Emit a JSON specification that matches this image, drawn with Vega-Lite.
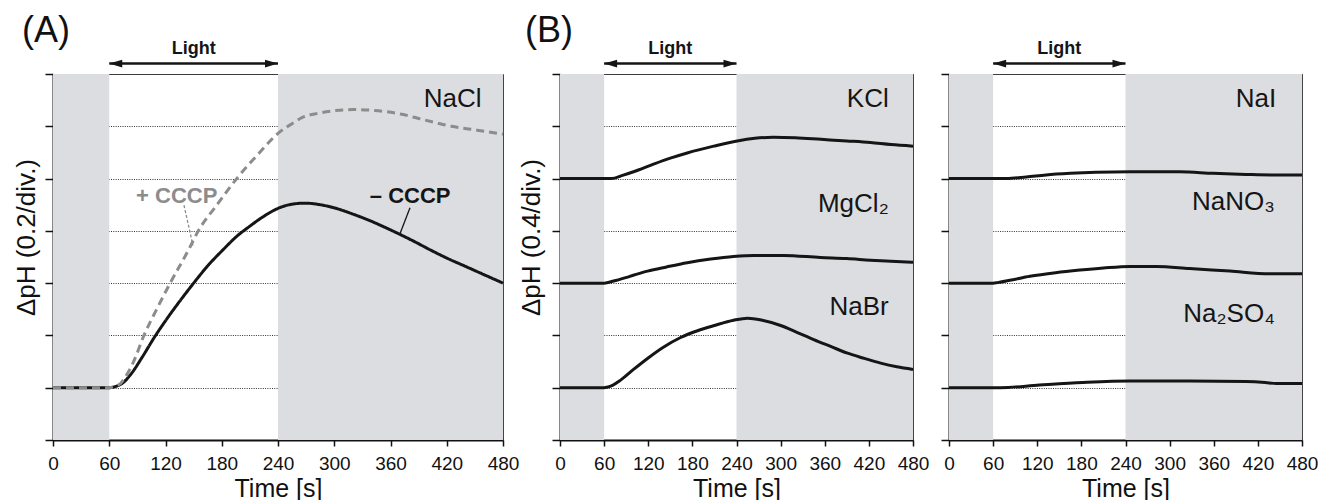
{
  "$schema": "https://vega.github.io/schema/vega-lite/v6.json",
  "padding": {"left": 12, "top": 12, "right": 0, "bottom": 0},
  "background": "white",
  "config": {
    "font": "Liberation Sans",
    "view": {"stroke": "#444", "strokeWidth": 1},
    "axisX": {"domainColor": "#111", "domainWidth": 2, "tickColor": "#111", "tickWidth": 1.5, "tickSize": 6, "labelFontSize": 19, "labelColor": "#111", "labelPadding": 8, "labelOverlap": false, "labelFlush": false, "titleFontSize": 25, "titleFontWeight": "normal", "titleColor": "#111", "titlePadding": 3, "grid": false},
    "axisY": {"domainColor": "#111", "domainWidth": 2, "tickColor": "#111", "tickWidth": 1.5, "tickSize": 8, "labels": false, "grid": true, "gridColor": "#333", "gridDash": [1, 1.3], "gridWidth": 1, "zindex": 1, "titleFontSize": 26, "titleFontWeight": "normal", "titleColor": "#111", "titleBaseline": "bottom", "titleAngle": 270, "titleAlign": "center", "titleY": 163},
    "title": {"fontSize": 36, "fontWeight": "normal", "color": "#111", "anchor": "start", "frame": "group"}
  },
  "datasets": {
    "shade": [{"t": 0, "t2": 60, "v": 0, "v2": 7}, {"t": 240, "t2": 480, "v": 0, "v2": 7}],
    "light": [{"t": 60, "t2": 240, "mid": 150, "v": 7.2, "vt": 7.38, "label": "Light"}],
    "curvesA": [
      {"s": "-CCCP", "t": 0, "v": 1}, {"s": "-CCCP", "t": 30, "v": 1}, {"s": "-CCCP", "t": 60, "v": 1}, {"s": "-CCCP", "t": 66, "v": 1.02}, {"s": "-CCCP", "t": 75, "v": 1.1}, {"s": "-CCCP", "t": 84, "v": 1.28}, {"s": "-CCCP", "t": 95, "v": 1.58}, {"s": "-CCCP", "t": 108, "v": 1.96}, {"s": "-CCCP", "t": 120, "v": 2.28}, {"s": "-CCCP", "t": 135, "v": 2.65}, {"s": "-CCCP", "t": 150, "v": 3.0}, {"s": "-CCCP", "t": 165, "v": 3.33}, {"s": "-CCCP", "t": 182, "v": 3.65}, {"s": "-CCCP", "t": 195, "v": 3.88}, {"s": "-CCCP", "t": 210, "v": 4.09}, {"s": "-CCCP", "t": 225, "v": 4.28}, {"s": "-CCCP", "t": 240, "v": 4.43}, {"s": "-CCCP", "t": 255, "v": 4.51}, {"s": "-CCCP", "t": 269, "v": 4.53}, {"s": "-CCCP", "t": 285, "v": 4.5}, {"s": "-CCCP", "t": 300, "v": 4.44}, {"s": "-CCCP", "t": 320, "v": 4.32}, {"s": "-CCCP", "t": 340, "v": 4.18}, {"s": "-CCCP", "t": 355, "v": 4.06}, {"s": "-CCCP", "t": 368, "v": 3.95}, {"s": "-CCCP", "t": 385, "v": 3.8}, {"s": "-CCCP", "t": 402, "v": 3.64}, {"s": "-CCCP", "t": 420, "v": 3.48}, {"s": "-CCCP", "t": 440, "v": 3.32}, {"s": "-CCCP", "t": 460, "v": 3.16}, {"s": "-CCCP", "t": 480, "v": 3.0},
      {"s": "+CCCP", "t": 0, "v": 1}, {"s": "+CCCP", "t": 30, "v": 1}, {"s": "+CCCP", "t": 60, "v": 1}, {"s": "+CCCP", "t": 65, "v": 1.02}, {"s": "+CCCP", "t": 72, "v": 1.08}, {"s": "+CCCP", "t": 77, "v": 1.2}, {"s": "+CCCP", "t": 86, "v": 1.5}, {"s": "+CCCP", "t": 97, "v": 2.0}, {"s": "+CCCP", "t": 110, "v": 2.48}, {"s": "+CCCP", "t": 125, "v": 3.0}, {"s": "+CCCP", "t": 145, "v": 3.65}, {"s": "+CCCP", "t": 155, "v": 4.0}, {"s": "+CCCP", "t": 175, "v": 4.5}, {"s": "+CCCP", "t": 196, "v": 5.0}, {"s": "+CCCP", "t": 219, "v": 5.47}, {"s": "+CCCP", "t": 241, "v": 5.88}, {"s": "+CCCP", "t": 255, "v": 6.05}, {"s": "+CCCP", "t": 266, "v": 6.17}, {"s": "+CCCP", "t": 283, "v": 6.25}, {"s": "+CCCP", "t": 301, "v": 6.3}, {"s": "+CCCP", "t": 320, "v": 6.32}, {"s": "+CCCP", "t": 337, "v": 6.31}, {"s": "+CCCP", "t": 355, "v": 6.28}, {"s": "+CCCP", "t": 372, "v": 6.23}, {"s": "+CCCP", "t": 390, "v": 6.15}, {"s": "+CCCP", "t": 408, "v": 6.07}, {"s": "+CCCP", "t": 425, "v": 6.0}, {"s": "+CCCP", "t": 443, "v": 5.95}, {"s": "+CCCP", "t": 462, "v": 5.9}, {"s": "+CCCP", "t": 480, "v": 5.85}
    ],
    "labelsA": [{"s": "+CCCP", "label": "+ CCCP", "t": 132, "v": 4.53}, {"s": "-CCCP", "label": "– CCCP", "t": 381, "v": 4.53}],
    "saltA": [{"label": "NaCl", "t": 457, "v": 6.37}],
    "leadersA": [{"s": "+CCCP", "t": 139.7, "v": 4.49, "t2": 149.3, "v2": 3.72}, {"s": "-CCCP", "t": 380.8, "v": 4.44, "t2": 370, "v2": 3.94}],
    "curvesB1": [
      {"s": "KCl", "t": 0, "v": 5}, {"s": "KCl", "t": 60, "v": 5}, {"s": "KCl", "t": 70, "v": 5.0}, {"s": "KCl", "t": 85, "v": 5.06}, {"s": "KCl", "t": 100, "v": 5.13}, {"s": "KCl", "t": 128, "v": 5.28}, {"s": "KCl", "t": 150, "v": 5.39}, {"s": "KCl", "t": 173, "v": 5.49}, {"s": "KCl", "t": 209, "v": 5.62}, {"s": "KCl", "t": 241, "v": 5.72}, {"s": "KCl", "t": 265, "v": 5.77}, {"s": "KCl", "t": 290, "v": 5.79}, {"s": "KCl", "t": 320, "v": 5.78}, {"s": "KCl", "t": 355, "v": 5.75}, {"s": "KCl", "t": 390, "v": 5.72}, {"s": "KCl", "t": 422, "v": 5.69}, {"s": "KCl", "t": 450, "v": 5.65}, {"s": "KCl", "t": 480, "v": 5.62},
      {"s": "MgCl2", "t": 0, "v": 3}, {"s": "MgCl2", "t": 60, "v": 3}, {"s": "MgCl2", "t": 73, "v": 3.04}, {"s": "MgCl2", "t": 95, "v": 3.13}, {"s": "MgCl2", "t": 119, "v": 3.23}, {"s": "MgCl2", "t": 145, "v": 3.31}, {"s": "MgCl2", "t": 173, "v": 3.39}, {"s": "MgCl2", "t": 205, "v": 3.46}, {"s": "MgCl2", "t": 236, "v": 3.51}, {"s": "MgCl2", "t": 264, "v": 3.53}, {"s": "MgCl2", "t": 304, "v": 3.53}, {"s": "MgCl2", "t": 354, "v": 3.49}, {"s": "MgCl2", "t": 390, "v": 3.47}, {"s": "MgCl2", "t": 422, "v": 3.44}, {"s": "MgCl2", "t": 450, "v": 3.42}, {"s": "MgCl2", "t": 480, "v": 3.4},
      {"s": "NaBr", "t": 0, "v": 1}, {"s": "NaBr", "t": 60, "v": 1}, {"s": "NaBr", "t": 64, "v": 1.01}, {"s": "NaBr", "t": 72, "v": 1.05}, {"s": "NaBr", "t": 82, "v": 1.14}, {"s": "NaBr", "t": 100, "v": 1.35}, {"s": "NaBr", "t": 119, "v": 1.56}, {"s": "NaBr", "t": 140, "v": 1.77}, {"s": "NaBr", "t": 164, "v": 1.96}, {"s": "NaBr", "t": 187, "v": 2.09}, {"s": "NaBr", "t": 210, "v": 2.19}, {"s": "NaBr", "t": 236, "v": 2.29}, {"s": "NaBr", "t": 255, "v": 2.33}, {"s": "NaBr", "t": 275, "v": 2.29}, {"s": "NaBr", "t": 300, "v": 2.19}, {"s": "NaBr", "t": 322, "v": 2.06}, {"s": "NaBr", "t": 345, "v": 1.92}, {"s": "NaBr", "t": 368, "v": 1.79}, {"s": "NaBr", "t": 391, "v": 1.66}, {"s": "NaBr", "t": 414, "v": 1.56}, {"s": "NaBr", "t": 436, "v": 1.47}, {"s": "NaBr", "t": 458, "v": 1.4}, {"s": "NaBr", "t": 480, "v": 1.35}
    ],
    "saltB1": [{"label": "KCl", "t": 447, "v": 6.37}, {"label": "MgCl₂", "t": 447, "v": 4.37}, {"label": "NaBr", "t": 447, "v": 2.39}],
    "curvesB2": [
      {"s": "NaI", "t": 0, "v": 5}, {"s": "NaI", "t": 60, "v": 5}, {"s": "NaI", "t": 78, "v": 5.0}, {"s": "NaI", "t": 105, "v": 5.03}, {"s": "NaI", "t": 132, "v": 5.07}, {"s": "NaI", "t": 165, "v": 5.1}, {"s": "NaI", "t": 200, "v": 5.12}, {"s": "NaI", "t": 246, "v": 5.13}, {"s": "NaI", "t": 280, "v": 5.13}, {"s": "NaI", "t": 314, "v": 5.13}, {"s": "NaI", "t": 359, "v": 5.1}, {"s": "NaI", "t": 404, "v": 5.08}, {"s": "NaI", "t": 440, "v": 5.07}, {"s": "NaI", "t": 480, "v": 5.07},
      {"s": "NaNO3", "t": 0, "v": 3}, {"s": "NaNO3", "t": 60, "v": 3}, {"s": "NaNO3", "t": 66, "v": 3.01}, {"s": "NaNO3", "t": 85, "v": 3.06}, {"s": "NaNO3", "t": 110, "v": 3.13}, {"s": "NaNO3", "t": 145, "v": 3.2}, {"s": "NaNO3", "t": 178, "v": 3.25}, {"s": "NaNO3", "t": 210, "v": 3.29}, {"s": "NaNO3", "t": 246, "v": 3.32}, {"s": "NaNO3", "t": 282, "v": 3.32}, {"s": "NaNO3", "t": 327, "v": 3.28}, {"s": "NaNO3", "t": 382, "v": 3.23}, {"s": "NaNO3", "t": 436, "v": 3.18}, {"s": "NaNO3", "t": 480, "v": 3.18},
      {"s": "Na2SO4", "t": 0, "v": 1}, {"s": "Na2SO4", "t": 60, "v": 1}, {"s": "Na2SO4", "t": 70, "v": 1.0}, {"s": "Na2SO4", "t": 123, "v": 1.05}, {"s": "Na2SO4", "t": 182, "v": 1.1}, {"s": "Na2SO4", "t": 246, "v": 1.13}, {"s": "Na2SO4", "t": 327, "v": 1.13}, {"s": "Na2SO4", "t": 404, "v": 1.12}, {"s": "Na2SO4", "t": 430, "v": 1.1}, {"s": "Na2SO4", "t": 445, "v": 1.08}, {"s": "Na2SO4", "t": 480, "v": 1.08}
    ],
    "saltB2": [{"label": "NaI", "t": 445, "v": 6.37}, {"label": "NaNO₃", "t": 443, "v": 4.4}, {"label": "Na₂SO₄", "t": 443, "v": 2.26}]
  },
  "hconcat": [
    {
      "width": 450, "height": 366,
      "title": {"text": "(A)", "dx": -31, "dy": 14},
      "encoding": {
        "x": {"field": "t", "type": "quantitative", "scale": {"domain": [0, 480], "nice": false}, "title": "Time [s]", "axis": {"values": [0, 60, 120, 180, 240, 300, 360, 420, 480]}},
        "y": {"field": "v", "type": "quantitative", "scale": {"domain": [0, 7], "nice": false, "zero": false}, "title": "ΔpH (0.2/div.)", "axis": {"titleX": -14, "values": [0, 1, 2, 3, 4, 5, 6, 7]}}
      },
      "layer": [
        {"data": {"name": "shade"}, "mark": {"type": "rect", "color": "#dcdde0"}, "encoding": {"x2": {"field": "t2"}, "y2": {"field": "v2"}}},
        {"data": {"name": "curvesA"}, "mark": {"type": "line", "strokeWidth": 3, "interpolate": "monotone"},
         "encoding": {"color": {"field": "s", "type": "nominal", "scale": {"domain": ["-CCCP", "+CCCP"], "range": ["#151515", "#8c8c8c"]}, "legend": null},
                      "strokeDash": {"field": "s", "type": "nominal", "scale": {"domain": ["-CCCP", "+CCCP"], "range": [[1, 0], [8, 5]]}, "legend": null}}},
        {"data": {"name": "leadersA"}, "transform": [{"filter": "datum.s == '+CCCP'"}], "mark": {"type": "rule", "strokeWidth": 1.3, "color": "#8c8c8c", "strokeDash": [3, 2]}, "encoding": {"x2": {"field": "t2"}, "y2": {"field": "v2"}}},
        {"data": {"name": "leadersA"}, "transform": [{"filter": "datum.s == '-CCCP'"}], "mark": {"type": "rule", "strokeWidth": 1.3, "color": "#151515"}, "encoding": {"x2": {"field": "t2"}, "y2": {"field": "v2"}}},
        {"data": {"name": "labelsA"}, "mark": {"type": "text", "fontSize": 22, "fontWeight": "bold", "align": "center", "baseline": "alphabetic"},
         "encoding": {"text": {"field": "label"}, "color": {"field": "s", "type": "nominal", "legend": null}}},
        {"data": {"name": "saltA"}, "mark": {"type": "text", "fontSize": 26, "align": "right", "baseline": "alphabetic", "color": "#151515"}, "encoding": {"text": {"field": "label"}}},
        {"data": {"name": "light"}, "mark": {"type": "rule", "strokeWidth": 2.5, "color": "#151515"}, "encoding": {"x2": {"field": "t2"}}},
        {"data": {"name": "light"}, "mark": {"type": "point", "filled": true, "opacity": 1, "color": "#151515", "size": 169, "shape": "M0,0L2,-0.6L2,0.6Z"}},
        {"data": {"name": "light"}, "mark": {"type": "point", "filled": true, "opacity": 1, "color": "#151515", "size": 169, "shape": "M0,0L-2,-0.6L-2,0.6Z"}, "encoding": {"x": {"field": "t2", "type": "quantitative"}}},
        {"data": {"name": "light"}, "mark": {"type": "text", "fontSize": 18, "fontWeight": "bold", "align": "center", "baseline": "alphabetic", "color": "#151515"}, "encoding": {"x": {"field": "mid", "type": "quantitative"}, "y": {"field": "vt", "type": "quantitative"}, "text": {"field": "label"}}}
      ]
    },
    {
      "width": 353, "height": 366,
      "title": {"text": "(B)", "dx": -35, "dy": 14},
      "encoding": {
        "x": {"field": "t", "type": "quantitative", "scale": {"domain": [0, 480], "nice": false}, "title": "Time [s]", "axis": {"values": [0, 60, 120, 180, 240, 300, 360, 420, 480]}},
        "y": {"field": "v", "type": "quantitative", "scale": {"domain": [0, 7], "nice": false, "zero": false}, "title": "ΔpH (0.4/div.)", "axis": {"titleX": -16, "values": [0, 1, 2, 3, 4, 5, 6, 7]}}
      },
      "layer": [
        {"data": {"name": "shade"}, "mark": {"type": "rect", "color": "#dcdde0"}, "encoding": {"x2": {"field": "t2"}, "y2": {"field": "v2"}}},
        {"data": {"name": "curvesB1"}, "mark": {"type": "line", "strokeWidth": 3, "interpolate": "monotone", "color": "#151515"}, "encoding": {"detail": {"field": "s"}}},
        {"data": {"name": "saltB1"}, "mark": {"type": "text", "fontSize": 26, "align": "right", "baseline": "alphabetic", "color": "#151515"}, "encoding": {"text": {"field": "label"}}},
        {"data": {"name": "light"}, "mark": {"type": "rule", "strokeWidth": 2.5, "color": "#151515"}, "encoding": {"x2": {"field": "t2"}}},
        {"data": {"name": "light"}, "mark": {"type": "point", "filled": true, "opacity": 1, "color": "#151515", "size": 169, "shape": "M0,0L2,-0.6L2,0.6Z"}},
        {"data": {"name": "light"}, "mark": {"type": "point", "filled": true, "opacity": 1, "color": "#151515", "size": 169, "shape": "M0,0L-2,-0.6L-2,0.6Z"}, "encoding": {"x": {"field": "t2", "type": "quantitative"}}},
        {"data": {"name": "light"}, "mark": {"type": "text", "fontSize": 18, "fontWeight": "bold", "align": "center", "baseline": "alphabetic", "color": "#151515"}, "encoding": {"x": {"field": "mid", "type": "quantitative"}, "y": {"field": "vt", "type": "quantitative"}, "text": {"field": "label"}}}
      ]
    },
    {
      "width": 353, "height": 366,
      "encoding": {
        "x": {"field": "t", "type": "quantitative", "scale": {"domain": [0, 480], "nice": false}, "title": "Time [s]", "axis": {"values": [0, 60, 120, 180, 240, 300, 360, 420, 480]}},
        "y": {"field": "v", "type": "quantitative", "scale": {"domain": [0, 7], "nice": false, "zero": false}, "title": "ΔpH", "axis": {"titleX": -8, "titleFontSize": 12, "titleOpacity": 0, "values": [0, 1, 2, 3, 4, 5, 6, 7]}}
      },
      "layer": [
        {"data": {"name": "shade"}, "mark": {"type": "rect", "color": "#dcdde0"}, "encoding": {"x2": {"field": "t2"}, "y2": {"field": "v2"}}},
        {"data": {"name": "curvesB2"}, "mark": {"type": "line", "strokeWidth": 3, "interpolate": "monotone", "color": "#151515"}, "encoding": {"detail": {"field": "s"}}},
        {"data": {"name": "saltB2"}, "mark": {"type": "text", "fontSize": 26, "align": "right", "baseline": "alphabetic", "color": "#151515"}, "encoding": {"text": {"field": "label"}}},
        {"data": {"name": "light"}, "mark": {"type": "rule", "strokeWidth": 2.5, "color": "#151515"}, "encoding": {"x2": {"field": "t2"}}},
        {"data": {"name": "light"}, "mark": {"type": "point", "filled": true, "opacity": 1, "color": "#151515", "size": 169, "shape": "M0,0L2,-0.6L2,0.6Z"}},
        {"data": {"name": "light"}, "mark": {"type": "point", "filled": true, "opacity": 1, "color": "#151515", "size": 169, "shape": "M0,0L-2,-0.6L-2,0.6Z"}, "encoding": {"x": {"field": "t2", "type": "quantitative"}}},
        {"data": {"name": "light"}, "mark": {"type": "text", "fontSize": 18, "fontWeight": "bold", "align": "center", "baseline": "alphabetic", "color": "#151515"}, "encoding": {"x": {"field": "mid", "type": "quantitative"}, "y": {"field": "vt", "type": "quantitative"}, "text": {"field": "label"}}}
      ]
    }
  ],
  "spacing": -3
}
